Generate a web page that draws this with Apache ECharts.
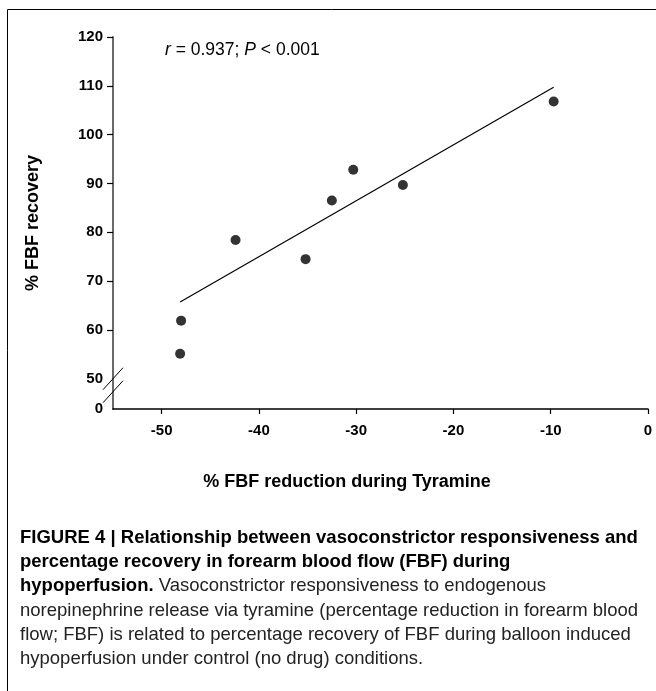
<!DOCTYPE html>
<html>
<head>
<meta charset="utf-8">
<script src="https://cdn.jsdelivr.net/npm/echarts@6/dist/echarts.min.js"></script>
<style>
  html, body { margin: 0; padding: 0; background: #fff; }
  #chart { width: 656px; height: 691px; }
</style>
</head>
<body>
<div id="chart"></div>
<script>
  // one point per subject: % FBF reduction during tyramine vs % FBF recovery
  var fbfReduction = [-48.1, -48.0, -42.4, -35.2, -32.5, -30.3, -25.2, -9.7]
  var fbfRecovery = [55.1, 61.9, 78.4, 74.5, 86.5, 92.8, 89.7, 106.8]
  // ends of the regression line as drawn
  var fitX = [-48.1, -9.7]
  var fitY = [65.7, 109.7]
  // axis ticks and labels
  var xTicks = [-50, -40, -30, -20, -10, 0]
  var yTicks = [60, 70, 80, 90, 100, 110, 120]
  // y axis is broken: its bottom is labelled 0
  var yBottom = 43.8
  var yLabelValues = [yBottom, 50, 60, 70, 80, 90, 100, 110, 120]
  var yLabelText = ['0', '50', '60', '70', '80', '90', '100', '110', '120']
  var captionLines = [
    '{b|FIGURE 4 | Relationship between vasoconstrictor responsiveness and}',
    '{b|percentage recovery in forearm blood flow (FBF) during}',
    '{b|hypoperfusion.} Vasoconstrictor responsiveness to endogenous',
    'norepinephrine release via tyramine (percentage reduction in forearm blood',
    'flow; FBF) is related to percentage recovery of FBF during balloon induced',
    'hypoperfusion under control (no drug) conditions.'
  ]

  var font = 'Liberation Sans, Arial, sans-serif'
  var chart = echarts.init(document.getElementById('chart'))

  var points = fbfReduction.map(function (x, i) { return [x, fbfRecovery[i]] })
  var fitLine = fitX.map(function (x, i) { return [x, fitY[i]] })

  chart.setOption({
    animation: false,
    backgroundColor: '#fff',
    grid: { left: 113, right: 8, top: 37, bottom: 282 },
    xAxis: {
      type: 'value',
      min: -55,
      max: 0,
      splitLine: { show: false },
      axisLine: { onZero: false, lineStyle: { color: '#000', width: 1.5 } },
      axisTick: { customValues: xTicks, length: 5, lineStyle: { color: '#000', width: 1.2 } },
      axisLabel: {
        customValues: xTicks,
        margin: 14,
        color: '#000',
        fontFamily: font,
        fontWeight: 'bold',
        fontSize: 15
      }
    },
    yAxis: {
      type: 'value',
      min: yBottom,
      max: 120,
      splitLine: { show: false },
      name: '% FBF recovery',
      nameLocation: 'middle',
      nameGap: 71,
      nameTextStyle: { color: '#000', fontFamily: font, fontWeight: 'bold', fontSize: 18 },
      axisLine: { onZero: false, lineStyle: { color: '#6a6a6a', width: 2 } },
      axisTick: { customValues: yTicks, length: 6, lineStyle: { color: '#000', width: 1.2 } },
      axisLabel: {
        customValues: yLabelValues,
        margin: 10,
        color: '#000',
        fontFamily: font,
        fontWeight: 'bold',
        fontSize: 15,
        formatter: function (v) {
          var i = yLabelValues.indexOf(v)
          return i >= 0 ? yLabelText[i] : ''
        }
      }
    },
    series: [
      {
        type: 'line',
        data: fitLine,
        symbol: 'none',
        lineStyle: { color: '#000', width: 1.2 },
        z: 2
      },
      {
        type: 'scatter',
        data: points,
        symbolSize: 10,
        itemStyle: { color: '#000' },
        z: 3
      }
    ]
  })

  // axis break marks, frame and texts
  var axisX = chart.convertToPixel({ xAxisIndex: 0 }, -55)
  var y50 = chart.convertToPixel({ yAxisIndex: 0 }, 50)
  var breakMarks = [0, 13].map(function (dy) {
    return {
      type: 'line',
      shape: { x1: axisX - 10, y1: y50 + dy + 11, x2: axisX + 10, y2: y50 + dy - 11 },
      style: { stroke: '#000', lineWidth: 1 },
      z: 10
    }
  })

  chart.setOption({
    graphic: breakMarks.concat([
      {
        type: 'polyline',
        shape: { points: [[7.5, 691], [7.5, 9.5], [656, 9.5]] },
        style: { stroke: '#000', lineWidth: 1, fill: null }
      },
      {
        type: 'text',
        x: 165,
        y: 50,
        style: {
          text: '{i|r} = 0.937; {i|P} < 0.001',
          font: '17.5px ' + font,
          fill: '#000',
          verticalAlign: 'middle',
          rich: { i: { fontStyle: 'italic', fontSize: 17.5, fontFamily: font } }
        }
      },
      {
        type: 'text',
        x: 347,
        y: 482,
        style: {
          text: '% FBF reduction during Tyramine',
          font: 'bold 18px ' + font,
          fill: '#000',
          align: 'center',
          verticalAlign: 'middle'
        }
      }
    ]).concat(captionLines.map(function (line, i) {
      return {
        type: 'text',
        x: 20,
        y: 538 + i * 24.2,
        style: {
          text: line,
          font: '18.5px ' + font,
          fill: '#222',
          verticalAlign: 'middle',
          rich: { b: { fontWeight: 'bold', fontSize: 18.5, fontFamily: font, fill: '#000' } }
        }
      }
    }))
  })
</script>
</body>
</html>
